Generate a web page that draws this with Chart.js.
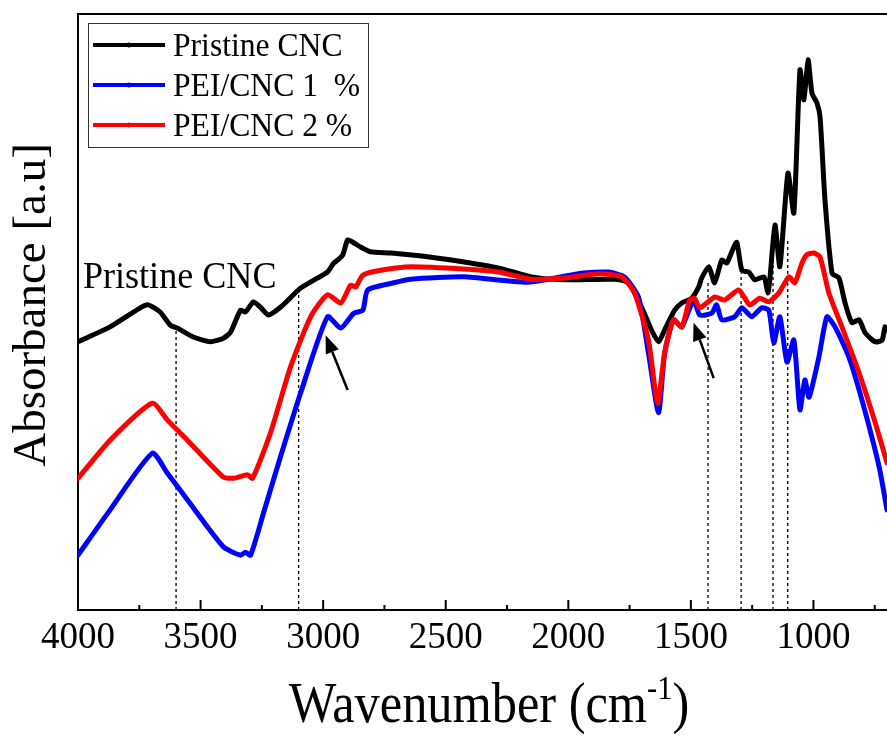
<!DOCTYPE html>
<html lang="en">
<head>
<meta charset="UTF-8">
<title>FTIR spectra</title>
<style>
  body { margin: 0; background: #fff; }
  #wrap { width: 887px; height: 738px; }
</style>
</head>
<body>
<div id="wrap"><canvas id="ftirChart" width="887" height="738"></canvas></div>
<script src="https://cdn.jsdelivr.net/npm/chart.js"></script>
<script>
// wavenumber (cm-1) / absorbance (arbitrary units, 0-100)
const cncX = [4000,3869,3746,3714,3665,3624,3595,3530,3460,3407,3378,3337,3317,3284,3256,3223,3174,3121,3092,3002,
  2982,2957,2941,2920,2900,2879,2847,2806,2724,2560,2425,2286,2151,2016,1812,1755,1701,1661,1632,1607,
  1566,1537,1497,1468,1456,1427,1403,1374,1354,1333,1313,1292,1264,1239,1202,1186,1178,1157,1137,1104,
  1080,1055,1039,1022,1006,986,973,953,924,896,871,843,814,789,748,720,708,700];
const cncY = [45.0,47.5,50.7,51.2,50.0,47.8,47.3,45.8,45.0,45.6,46.6,50.3,50.0,51.7,50.8,49.5,50.8,52.9,54.0,56.2,
  56.7,58.2,58.7,59.6,62.1,61.7,60.9,60.1,59.9,59.2,58.4,57.4,55.9,55.4,55.5,54.9,50.8,47.0,45.0,47.0,
  50.3,51.5,52.3,54.2,55.7,57.6,54.9,58.7,58.2,60.1,61.7,57.0,56.7,55.4,55.9,53.2,55.4,64.6,57.6,73.3,
  66.6,90.6,85.6,92.3,86.7,85.1,82.7,68.8,56.5,55.7,51.5,48.2,48.7,46.5,45.0,45.3,47.5,47.0];

const pei1X = [4000,3869,3697,3636,3554,3407,3337,3317,3296,3243,3174,3092,2982,2928,2875,2838,2818,2712,2642,2425,
  2164,1947,1837,1771,1714,1673,1632,1607,1571,1537,1489,1464,1415,1395,1374,1321,1292,1252,1211,1182,
  1162,1137,1108,1080,1055,1035,1018,978,945,912,855,802,732,700];
const pei1Y = [9.2,16.8,26.3,23.0,18.5,10.6,9.2,9.7,9.2,16.3,25.7,36.4,49.2,47.3,49.8,50.3,53.7,54.9,55.5,55.9,
  55.0,56.5,56.7,55.9,52.5,43.1,33.1,43.1,48.7,47.5,52.0,49.5,49.8,51.2,48.7,49.2,50.7,49.2,50.7,50.3,
  44.8,49.2,41.6,45.3,33.6,38.6,35.7,42.4,49.2,47.5,42.4,35.2,24.0,16.8];

const pei2X = [4000,3869,3697,3636,3554,3407,3366,3309,3288,3215,3133,3051,2982,2928,2888,2867,2838,2765,2642,2425,
  2286,2151,2016,1877,1783,1730,1673,1636,1607,1571,1537,1505,1485,1464,1403,1362,1305,1260,1219,1182,
  1141,1100,1076,1047,1027,998,973,937,884,814,748,700];
const pei2Y = [22.1,28.5,34.7,31.9,28.5,22.3,22.1,22.7,22.1,29.7,40.8,49.2,52.9,51.5,54.5,54.2,56.2,57.0,57.6,57.2,
  56.7,55.5,55.7,56.4,55.9,53.2,45.3,34.7,43.1,48.7,47.5,52.0,52.3,50.7,52.5,52.0,53.7,51.2,52.3,51.7,
  53.2,55.9,54.9,58.2,59.6,59.9,59.2,53.2,47.5,39.8,31.4,24.7];

// dotted guide lines: band position and where they stop
const guideX = [3600, 3100, 1430, 1295, 1165, 1105];
const guideTop = [47.0, 53.5, 55.4, 56.5, 64.0, 62.0];

const xTicks = [4000, 3500, 3000, 2500, 2000, 1500, 1000];
const seriesNames = ['Pristine CNC', 'PEI/CNC 1  %', 'PEI/CNC 2 %'];
const seriesColors = ['#000000', '#0000ff', '#ff0000'];

const serif = "'Liberation Serif', 'Times New Roman', serif";
Chart.defaults.font.family = serif;
Chart.defaults.color = '#000';

function pts(xs, ys) {
  return xs.map((x, i) => ({ x: x, y: ys[i] }));
}

const datasets = [
  { label: seriesNames[2], data: pts(pei2X, pei2Y), borderColor: seriesColors[2], order: 0 },
  { label: seriesNames[1], data: pts(pei1X, pei1Y), borderColor: seriesColors[1], order: 1 },
  { label: seriesNames[0], data: pts(cncX, cncY), borderColor: seriesColors[0], order: 2 }
].map(d => Object.assign(d, { borderWidth: 5, tension: 0.2, pointRadius: 0, fill: false, borderJoinStyle: 'round', borderCapStyle: 'round' }));

guideX.forEach((g, i) => {
  datasets.push({
    label: 'guide' + i,
    data: [{ x: g, y: 0 }, { x: g, y: guideTop[i] }],
    borderColor: '#000', borderWidth: 1.3, borderDash: [3, 3], pointRadius: 0, order: 3
  });
});

// text written with a slight horizontal squeeze, like the original
function squeezedText(ctx, text, x, y, size, sx, align) {
  ctx.save();
  ctx.font = size + 'px ' + serif;
  const w = ctx.measureText(text).width * sx;
  let x0 = x;
  if (align === 'center') x0 = x - w / 2;
  ctx.translate(x0, y);
  ctx.scale(sx, 1);
  ctx.textAlign = 'left';
  ctx.textBaseline = 'alphabetic';
  ctx.fillStyle = '#000';
  ctx.fillText(text, 0, 0);
  ctx.restore();
}

function arrow(ctx, x1, y1, x2, y2) {
  const ang = Math.atan2(y2 - y1, x2 - x1);
  const hl = 18, hw = 7;
  const bx = x2 - hl * Math.cos(ang), by = y2 - hl * Math.sin(ang);
  ctx.save();
  ctx.strokeStyle = '#000';
  ctx.fillStyle = '#000';
  ctx.lineWidth = 2.5;
  ctx.beginPath();
  ctx.moveTo(x1, y1);
  ctx.lineTo(bx, by);
  ctx.stroke();
  ctx.beginPath();
  ctx.moveTo(x2, y2);
  ctx.lineTo(bx + hw * Math.sin(ang), by - hw * Math.cos(ang));
  ctx.lineTo(bx - hw * Math.sin(ang), by + hw * Math.cos(ang));
  ctx.closePath();
  ctx.fill();
  ctx.restore();
}

const overlay = {
  id: 'overlay',
  afterDraw(chart) {
    const ctx = chart.ctx;
    const a = chart.chartArea;
    const xs = chart.scales.x, ys = chart.scales.y;

    // top frame line
    ctx.save();
    ctx.strokeStyle = '#000';
    ctx.lineWidth = 2;
    ctx.beginPath();
    ctx.moveTo(a.left - 1, a.top);
    ctx.lineTo(a.right, a.top);
    ctx.stroke();

    // inward ticks on the bottom axis
    ctx.lineWidth = 2;
    for (let v = 4000; v >= 750; v -= 250) {
      const px = xs.getPixelForValue(v);
      const len = v % 500 === 0 ? 10 : 5;
      ctx.beginPath();
      ctx.moveTo(px, a.bottom);
      ctx.lineTo(px, a.bottom - len);
      ctx.stroke();
    }
    ctx.restore();

    // legend box
    ctx.save();
    ctx.strokeStyle = '#333';
    ctx.lineWidth = 1;
    ctx.strokeRect(88.5, 23.5, 280, 124);
    const rows = [45, 85, 125];
    rows.forEach((ry, i) => {
      ctx.strokeStyle = seriesColors[i];
      ctx.fillStyle = seriesColors[i];
      ctx.lineWidth = 4;
      ctx.beginPath();
      ctx.moveTo(93, ry);
      ctx.lineTo(165, ry);
      ctx.stroke();
      ctx.beginPath();
      ctx.arc(129, ry, 2.5, 0, Math.PI * 2);
      ctx.fill();
      squeezedText(ctx, seriesNames[i], 173, ry + 11, 34, 0.93, 'left');
    });
    ctx.restore();

    // in-plot label and arrows (placed in data units)
    squeezedText(ctx, 'Pristine CNC', xs.getPixelForValue(3980), ys.getPixelForValue(54.0), 38, 0.95, 'left');
    arrow(ctx, xs.getPixelForValue(2900), ys.getPixelForValue(36.9), xs.getPixelForValue(2990), ys.getPixelForValue(46.1));
    arrow(ctx, xs.getPixelForValue(1407), ys.getPixelForValue(38.9), xs.getPixelForValue(1489), ys.getPixelForValue(48.2));

    // x axis title with superscript
    ctx.save();
    const size = 56, sx = 0.9;
    ctx.font = size + 'px ' + serif;
    const p1 = 'Wavenumber (cm', p3 = ')';
    const w1 = ctx.measureText(p1).width;
    const w3 = ctx.measureText(p3).width;
    ctx.font = Math.round(size * 0.6) + 'px ' + serif;
    const w2 = ctx.measureText('-1').width;
    const total = (w1 + w2 + w3) * sx;
    const cx = 489;
    ctx.translate(cx - total / 2, 722);
    ctx.scale(sx, 1);
    ctx.fillStyle = '#000';
    ctx.textBaseline = 'alphabetic';
    ctx.font = size + 'px ' + serif;
    ctx.fillText(p1, 0, 0);
    ctx.font = Math.round(size * 0.6) + 'px ' + serif;
    ctx.fillText('-1', w1, -23);
    ctx.font = size + 'px ' + serif;
    ctx.fillText(p3, w1 + w2, 0);
    ctx.restore();

    // y axis title
    ctx.save();
    ctx.translate(33, 305);
    ctx.rotate(-Math.PI / 2);
    ctx.font = '47px ' + serif;
    ctx.fillStyle = '#000';
    ctx.textAlign = 'center';
    ctx.textBaseline = 'middle';
    ctx.fillText('Absorbance [a.u]', 0, 0);
    ctx.restore();
  }
};

new Chart(document.getElementById('ftirChart'), {
  type: 'line',
  data: { datasets: datasets },
  options: {
    responsive: false,
    animation: false,
    layout: { padding: { top: 14, right: 0, left: 0, bottom: 0 } },
    plugins: { legend: { display: false }, tooltip: { enabled: false } },
    scales: {
      x: {
        type: 'linear',
        reverse: true,
        min: 700,
        max: 4000,
        afterFit: s => { s.height = 128; },
        afterBuildTicks: s => { s.ticks = xTicks.map(v => ({ value: v })); },
        grid: { display: false, drawTicks: false },
        border: { display: true, color: '#000', width: 2 },
        ticks: { font: { size: 37 }, padding: 6, color: '#000', maxRotation: 0, autoSkip: false,
                 callback: v => String(v) }
      },
      y: {
        min: 0,
        max: 100,
        afterFit: s => { s.width = 78; },
        grid: { display: false, drawTicks: false },
        ticks: { display: false },
        border: { display: true, color: '#000', width: 2 }
      }
    }
  },
  plugins: [overlay]
});
</script>
</body>
</html>
